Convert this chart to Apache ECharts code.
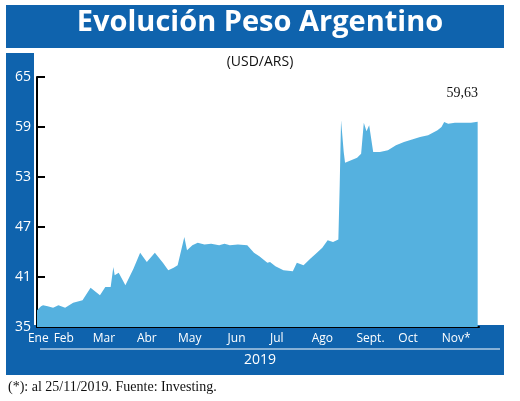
<!DOCTYPE html>
<html><head><meta charset="utf-8">
<script src="https://cdn.jsdelivr.net/npm/echarts@6/dist/echarts.min.js"></script>
<style>html,body{margin:0;padding:0;background:#fff}#c{width:520px;height:401px}</style>
</head><body><div id="c"></div>
<script>
const days = [0,3,4.5,8,12,16,21,24,27,34,40,47,51,55,57,58,61,66,72,77,82,88,94,98,102,105,110,112,116,120,125,130,136,140,144,150,157,162,166,172,174,178,184,191,194,199,204,209,213,217,221,225,226,227,229,230,239,242,244,246,248,251,256,262,268,274,280,286,292,299,302,304,307,312,318,324,329];
const values = [37.0,37.5,37.6,37.5,37.3,37.6,37.3,37.6,37.9,38.2,39.7,38.8,39.8,39.8,42.2,41.2,41.5,40.0,42.0,43.9,42.8,43.9,42.7,41.8,42.1,42.4,45.8,44.2,44.8,45.1,44.9,45.0,44.8,45.0,44.8,44.9,44.8,43.9,43.5,42.7,42.8,42.3,41.8,41.7,42.7,42.4,43.2,43.9,44.5,45.4,45.2,45.5,52.0,59.8,56.0,54.7,55.3,55.8,59.5,58.5,59.2,56.0,56.0,56.2,56.8,57.2,57.5,57.8,58.0,58.6,59.0,59.6,59.4,59.5,59.5,59.5,59.63];
const monthDays = [1,20,50,82,114,149,179,213,249,277,313];
const monthLabels = ['Ene','Feb','Mar','Abr','May','Jun','Jul','Ago','Sept.','Oct','Nov*'];
const yTicks = [35,41,47,53,59,65];
const lastLabel = '59,63';
const BLUE = '#0f63ad';
const chart = echarts.init(document.getElementById('c'));
chart.setOption({
  animation:false,
  grid:{left:37,right:41,top:77,bottom:74},
  graphic:[
    {type:'rect',shape:{x:6,y:5,width:498,height:43},style:{fill:BLUE},z:-10},
    {type:'text',left:'center',top:8,style:{text:'Evolución Peso Argentino',fill:'#fff',font:'bold 29px "Open Sans", sans-serif'}},
    {type:'rect',shape:{x:6,y:53,width:28,height:322},style:{fill:BLUE},z:-10},
    {type:'rect',shape:{x:6,y:325,width:498,height:50},style:{fill:BLUE},z:-10},
    {type:'line',shape:{x1:40,y1:349,x2:500,y2:349},style:{stroke:'#fff',lineWidth:1}},
    {type:'text',left:'center',top:353,style:{text:'2019',fill:'#fff',font:'14px "Open Sans", sans-serif'}},
    {type:'text',left:'center',top:55,style:{text:'(USD/ARS)',fill:'#111',font:'14px "Open Sans", sans-serif'}},
    {type:'text',right:42,top:86,style:{text:lastLabel,fill:'#111',font:'14px "Liberation Serif", serif'}},
    {type:'text',left:8,top:380,style:{text:'(*): al 25/11/2019. Fuente: Investing.',fill:'#111',font:'14px "Liberation Serif", serif'}}
  ],
  xAxis:{type:'value',min:0,max:330,
    axisLine:{show:true,lineStyle:{color:'#000',width:2}},
    axisTick:{show:false},splitLine:{show:false},
    axisLabel:{customValues:monthDays,color:'#fff',fontFamily:'Open Sans',fontSize:12,margin:6,
      formatter:v=>monthLabels[monthDays.indexOf(v)]??''}
  },
  yAxis:{type:'value',min:35,max:65,interval:6,
    axisLine:{show:true,lineStyle:{color:'#000',width:2}},
    axisTick:{show:true,inside:true,length:8,lineStyle:{color:'#000',width:2}},
    splitLine:{show:false},
    axisLabel:{color:'#fff',fontFamily:'Open Sans',fontSize:14,margin:6}
  },
  series:[{type:'line',data:days.map((d,i)=>[d,values[i]]),symbol:'none',
    lineStyle:{width:0},areaStyle:{color:'#55b1df',opacity:1}}]
});
</script></body></html>
